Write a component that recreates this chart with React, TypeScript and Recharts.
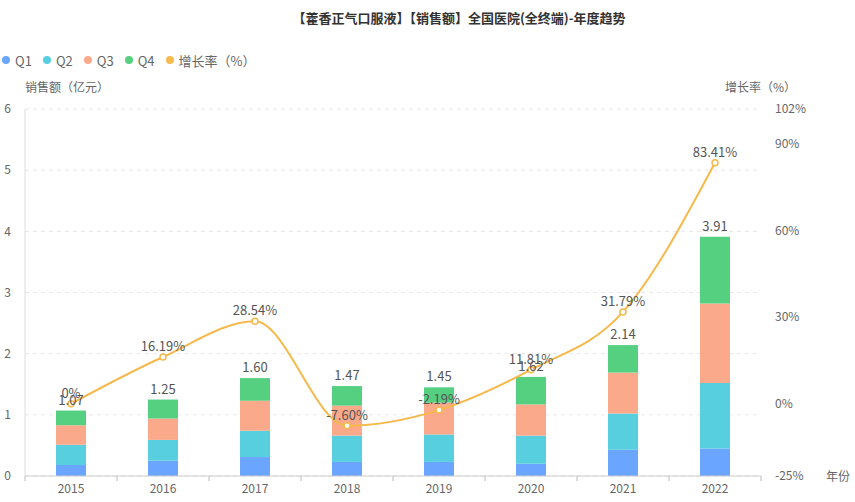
import React from 'react'
import { ComposedChart, Bar, Line, XAxis, YAxis, CartesianGrid, Legend, LabelList } from 'recharts';

const years = ['2015', '2016', '2017', '2018', '2019', '2020', '2021', '2022'];
const q1 = [0.18, 0.25, 0.31, 0.23, 0.23, 0.20, 0.43, 0.45];
const q2 = [0.33, 0.34, 0.43, 0.43, 0.45, 0.46, 0.59, 1.07];
const q3 = [0.32, 0.35, 0.49, 0.49, 0.52, 0.51, 0.67, 1.30];
const q4 = [0.24, 0.31, 0.37, 0.32, 0.25, 0.45, 0.45, 1.09];
const totals = [1.07, 1.25, 1.60, 1.47, 1.45, 1.62, 2.14, 3.91];
const growth = [0, 16.19, 28.54, -7.60, -2.19, 11.81, 31.79, 83.41];

const leftTicks = [0, 1, 2, 3, 4, 5, 6];
const rightTicks = [-25, 0, 30, 60, 90, 102];

const colors = {
  q1: '#6aa5ff',
  q2: '#58cfdf',
  q3: '#fba98b',
  q4: '#55cf80',
  growth: '#f5b94c',
}

const seriesNames = [
  { key: 'q1', name: 'Q1' },
  { key: 'q2', name: 'Q2' },
  { key: 'q3', name: 'Q3' },
  { key: 'q4', name: 'Q4' },
  { key: 'growth', name: '增长率（%）' },
]

const data = years.map((year, i) => ({
  year,
  q1: q1[i],
  q2: q2[i],
  q3: q3[i],
  q4: q4[i],
  total: totals[i],
  growth: growth[i],
}));

const FONT = '"Noto Sans CJK SC", "Noto Sans", sans-serif';
const W = 855;
const H = 502;
const PLOT_LEFT = 25;
const PLOT_RIGHT = 761;

const LegendContent = () => (
  <div style={{ display: 'flex', fontFamily: FONT, fontSize: 13, color: '#666', height: 20, alignItems: 'center' }}>
    {seriesNames.map(s => (
      <div key={s.key} style={{ display: 'flex', alignItems: 'center', marginRight: 11 }}>
        <span style={{ width: 8, height: 8, borderRadius: 4, background: colors[s.key], marginRight: 5, display: 'inline-block' }} />
        <span>{s.name}</span>
      </div>
    ))}
  </div>
);

const XTick = (props: any) => {
  const { x, y, payload, index } = props;
  const band = (PLOT_RIGHT - PLOT_LEFT) / years.length;
  return (
    <g>
      <line x1={x - band / 2} y1={y - 8} x2={x - band / 2} y2={y - 3} stroke="#bbb" />
      {index === years.length - 1 &&
        <line x1={x + band / 2} y1={y - 8} x2={x + band / 2} y2={y - 3} stroke="#bbb" />}
      <text x={x} y={y + 9} textAnchor="middle" fill="#666" fontSize={12} fontFamily={FONT}>{payload.value}</text>
    </g>
  );
}

const fmtGrowth = (v: any) => (v === 0 ? '0%' : `${Number(v).toFixed(2)}%`);

const App: React.FC = () => {
  return (
    <div style={{ position: 'absolute', left: 0, top: 0, width: W, height: H, fontFamily: FONT }}>
      <div style={{ position: 'absolute', top: 8, left: 0, width: 918, textAlign: 'center', fontSize: 13, fontWeight: 'bold', color: '#333' }}>
        【藿香正气口服液】【销售额】全国医院(全终端)-年度趋势
      </div>
      <div style={{ position: 'absolute', top: 78, left: 25, fontSize: 12, color: '#666' }}>销售额（亿元）</div>
      <div style={{ position: 'absolute', top: 78, left: 725, fontSize: 12, color: '#666' }}>增长率（%）</div>
      <div style={{ position: 'absolute', top: 467, left: 826, fontSize: 12, color: '#666' }}>年份</div>
      <ComposedChart width={W} height={H} data={data}
        margin={{ top: 89, right: 0, left: 0, bottom: 0 }}>
        <CartesianGrid yAxisId="left" vertical={false} stroke="#e6e6e6" strokeDasharray="4 4" />
        <Legend verticalAlign="top" align="left" content={<LegendContent />}
          wrapperStyle={{ top: 50, left: 2, height: 20 }} />
        <XAxis dataKey="year" height={26} tickLine={false} stroke="#ccc" tick={<XTick />} interval={0} />
        <YAxis yAxisId="left" width={25} domain={[0, 6]} ticks={leftTicks} tickLine={false}
          stroke="#ddd" tick={{ fill: '#666', fontSize: 12, fontFamily: FONT }} tickMargin={8} />
        <YAxis yAxisId="right" orientation="right" width={94} domain={[-25, 102]} ticks={rightTicks}
          tickLine={false} axisLine={false} tickFormatter={(v) => `${v}%`}
          tick={{ fill: '#666', fontSize: 12, fontFamily: FONT, textAnchor: 'start' }} tickMargin={8} />
        <Bar yAxisId="left" dataKey="q1" name="Q1" stackId="a" fill={colors.q1} barSize={30} isAnimationActive={false} />
        <Bar yAxisId="left" dataKey="q2" name="Q2" stackId="a" fill={colors.q2} barSize={30} isAnimationActive={false} />
        <Bar yAxisId="left" dataKey="q3" name="Q3" stackId="a" fill={colors.q3} barSize={30} isAnimationActive={false} />
        <Bar yAxisId="left" dataKey="q4" name="Q4" stackId="a" fill={colors.q4} barSize={30} isAnimationActive={false}>
          <LabelList dataKey="total" position="top" offset={6} fill="#555" fontSize={13} fontFamily={FONT}
            formatter={(v: any) => Number(v).toFixed(2)} />
        </Bar>
        <Line yAxisId="right" dataKey="growth" name="增长率（%）" type="monotone" stroke={colors.growth} strokeWidth={2}
          dot={{ r: 3, fill: '#fff', stroke: colors.growth, strokeWidth: 1.5 }} isAnimationActive={false}>
          <LabelList dataKey="growth" position="top" offset={6} fill="#555" fontSize={13} fontFamily={FONT}
            formatter={fmtGrowth} />
        </Line>
      </ComposedChart>
    </div>
  );
}

export default App;
